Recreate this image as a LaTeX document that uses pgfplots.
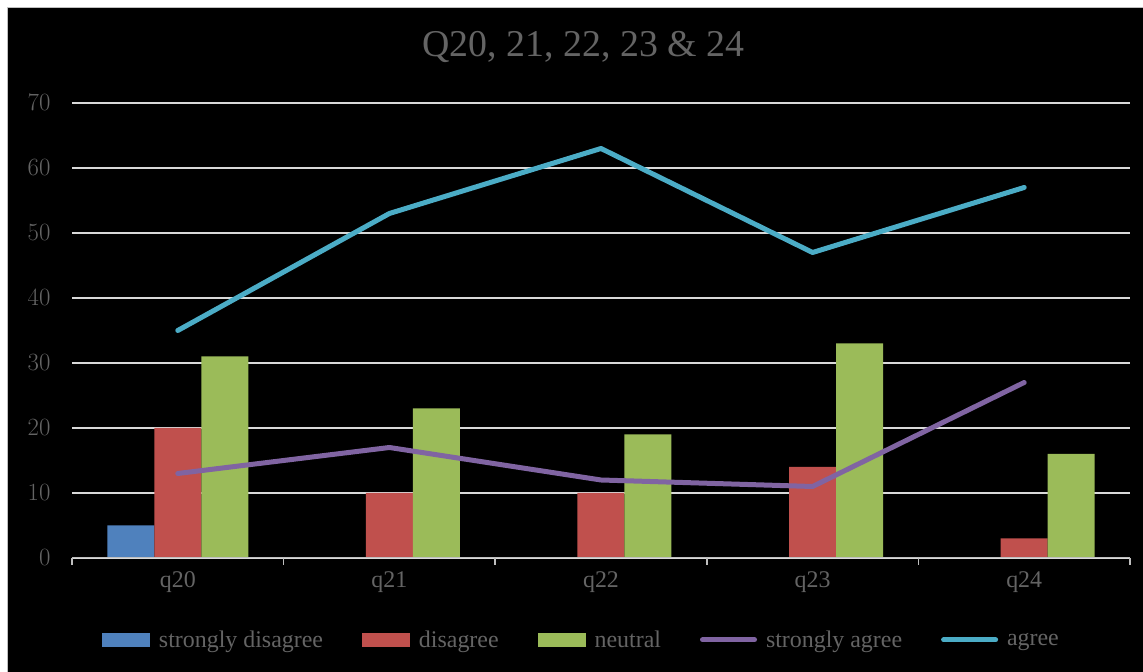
\documentclass[border=0pt]{standalone}
\usepackage{pgfplots}
\pgfplotsset{compat=1.18}
\usepackage{fontspec}
\setmainfont{Liberation Serif}
\definecolor{cblue}{RGB}{79,129,189}
\definecolor{cred}{RGB}{192,80,77}
\definecolor{cgreen}{RGB}{155,187,89}
\definecolor{cpurple}{RGB}{128,100,162}
\definecolor{ccyan}{RGB}{75,172,198}
\definecolor{textgray}{RGB}{100,100,100}
\definecolor{gridcol}{RGB}{217,217,217}
\definecolor{axisgray}{RGB}{190,190,190}
\begin{document}
\begin{tikzpicture}[x=1bp,y=1bp]
\useasboundingbox (0,0) rectangle (1143,672);
\fill[white] (0,0) rectangle (1143,672);
\fill[black] (7,0) rectangle (1143,665);
\draw[gray!50, line width=1bp] (7.5,0) -- (7.5,664.5) -- (1143,664.5);
\begin{axis}[
  at={(72bp,114bp)}, anchor=south west, scale only axis,
  width=1058bp, height=455bp,
  xmin=-0.5, xmax=4.5, ymin=0, ymax=70,
  axis line style={draw=none},
  xtick={0,1,2,3,4}, xticklabels={q20,q21,q22,q23,q24},
  minor xtick={-0.5,0.5,1.5,2.5,3.5,4.5},
  ytick={0,10,...,70},
  tick align=outside, tick pos=left,
  major tick length=0pt, minor tick length=7bp,
  minor tick style={axisgray, line width=1.5bp},
  ymajorgrids, grid style={gridcol, line width=1.5bp},
  ticklabel style={text=textgray, font=\fontsize{24}{28}\selectfont},
  yticklabel style={xshift=-18bp},
  xticklabel style={yshift=-10bp},
  title={Q20, 21, 22, 23 \& 24},
  title style={at={(0.4835,1)}, anchor=base, yshift=41bp, text=textgray, font=\fontsize{38}{44}\selectfont},
  legend columns=5,
  legend style={at={(0.4815,-0.18)}, anchor=center, draw=none, fill=none,
    font=\fontsize{24}{28}\selectfont, text=textgray,
    /tikz/every odd column/.append style={column sep=7bp},
    /tikz/every even column/.append style={column sep=37bp}},
]
\addplot[ybar, bar width=47bp, bar shift=-47bp, fill=cblue, draw=none,
  legend image code/.code={\fill[cblue] (0bp,-7bp) rectangle (48bp,7bp);}]
  coordinates {(0,5) (1,0) (2,0) (3,0) (4,0)};
\addlegendentry{strongly disagree}
\addplot[ybar, bar width=47bp, bar shift=0bp, fill=cred, draw=none,
  legend image code/.code={\fill[cred] (0bp,-7bp) rectangle (48bp,7bp);}]
  coordinates {(0,20) (1,10) (2,10) (3,14) (4,3)};
\addlegendentry{disagree}
\addplot[ybar, bar width=47bp, bar shift=47bp, fill=cgreen, draw=none,
  legend image code/.code={\fill[cgreen] (0bp,-7bp) rectangle (48bp,7bp);}]
  coordinates {(0,31) (1,23) (2,19) (3,33) (4,16)};
\addlegendentry{neutral}
\addplot[cpurple, line width=5bp, line join=round, line cap=round,
  legend image code/.code={\draw[cpurple, line width=5bp, line cap=round] (0bp,0bp) -- (52bp,0bp);}]
  coordinates {(0,13) (1,17) (2,12) (3,11) (4,27)};
\addlegendentry{strongly agree}
\addplot[ccyan, line width=5bp, line join=round, line cap=round,
  legend image code/.code={\draw[ccyan, line width=5bp, line cap=round] (0bp,0bp) -- (52bp,0bp);}]
  coordinates {(0,35) (1,53) (2,63) (3,47) (4,57)};
\addlegendentry{agree}
\draw[axisgray, line width=1.5bp] (rel axis cs:0,0) -- (rel axis cs:1,0);
\end{axis}
\end{tikzpicture}
\end{document}
